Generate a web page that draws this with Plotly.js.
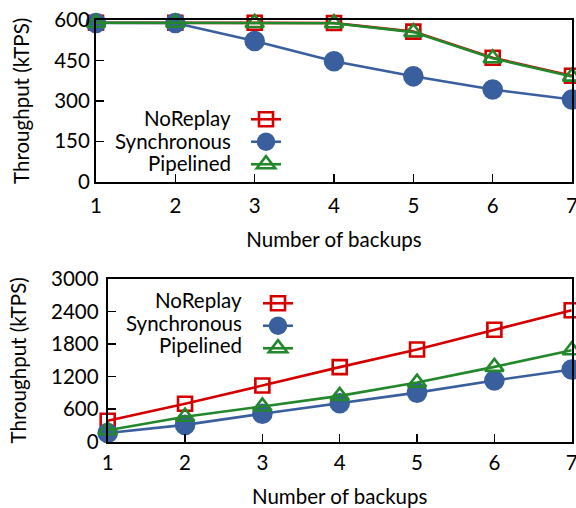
<!DOCTYPE html>
<html>
<head>
<meta charset="utf-8">
<script src="https://cdn.plot.ly/plotly-3.0.1.min.js"></script>
<style>html,body{margin:0;padding:0;background:#fff;}#chart{width:576px;height:508px;}</style>
</head>
<body>
<div id="chart"></div>
<script>
// ---- data ----
const backups = [1, 2, 3, 4, 5, 6, 7];
const seriesNames = ["NoReplay", "Synchronous", "Pipelined"];
// top panel
const noReplayTop = [590, 590, 590, 589, 557, 460, 393];
const syncTop     = [589, 589, 522, 447, 391, 342, 305];
const pipeTop     = [590, 590, 589, 588, 555, 458, 390];
// bottom panel
const noReplayBot = [385, 700, 1035, 1375, 1700, 2065, 2425];
const syncBot     = [160, 310, 515, 710, 905, 1130, 1330];
const pipeBot     = [210, 460, 650, 845, 1090, 1380, 1685];
const topTicks = [0, 150, 300, 450, 600];
const botTicks = [0, 600, 1200, 1800, 2400, 3000];

// ---- styles ----
const FONT = "Lato, 'Open Sans', sans-serif";
const FS = 20.5;
const colors = ["#d40000", "#3a5f9e", "#23882b"];
const symbols = ["square-open", "circle", "triangle-up-open"];
const sizes = [14, 18, 16];

function mk(y, i, xa, ya, leg) {
  return {
    x: backups, y: y, xaxis: xa, yaxis: ya, type: "scatter", mode: "lines+markers",
    name: " ", meta: seriesNames[i], legend: leg, cliponaxis: false, hoverinfo: "skip",
    line: {color: colors[i], width: 2.6},
    marker: {symbol: symbols[i], size: sizes[i], color: colors[i],
             line: {color: colors[i], width: 2.6}}
  };
}
const traces = [
  mk(noReplayTop, 0, "x", "y", "legend"),
  mk(syncTop, 1, "x", "y", "legend"),
  mk(pipeTop, 2, "x", "y", "legend"),
  mk(noReplayBot, 0, "x2", "y2", "legend2"),
  mk(syncBot, 1, "x2", "y2", "legend2"),
  mk(pipeBot, 2, "x2", "y2", "legend2")
];

const W = 576, H = 508;
const px = v => v / W, py = v => 1 - v / H;

function xax(dom, anchor, labOff, titleOff) {
  return {
    domain: dom, anchor: anchor, range: [1, 7], tickvals: backups,
    showline: true, mirror: true, linecolor: "#000", linewidth: 2,
    ticks: "inside", ticklen: 8, tickwidth: 1.5, tickcolor: "#000",
    showgrid: false, zeroline: false, ticklabeloverflow: "allow",
    ticklabelstandoff: labOff,
    tickfont: {family: FONT, size: FS, color: "#000"},
    title: {text: "Number of backups", font: {family: FONT, size: FS, color: "#000"}, standoff: titleOff}
  };
}
function yax(dom, anchor, rng, tv, labOff, titleOff) {
  return {
    domain: dom, anchor: anchor, range: rng, tickvals: tv,
    showline: true, mirror: true, linecolor: "#000", linewidth: 2,
    ticks: "inside", ticklen: 8, tickwidth: 1.5, tickcolor: "#000",
    showgrid: false, zeroline: false, ticklabelstandoff: labOff,
    tickfont: {family: FONT, size: FS, color: "#000"},
    title: {text: "Throughput (kTPS)", font: {family: FONT, size: FS, color: "#000"}, standoff: titleOff}
  };
}

const legendBase = {
  font: {family: FONT, size: 15, color: "#000"},
  bgcolor: "rgba(0,0,0,0)", borderwidth: 0, itemsizing: "trace",
  xanchor: "left", yanchor: "top", tracegroupgap: 0, itemwidth: 30
};

const annotations = [];
const topRows = [118, 141, 163], botRows = [300, 323, 345];
seriesNames.forEach((n, i) => {
  annotations.push({text: n, xref: "paper", yref: "paper", x: px(233), y: py(topRows[i]),
    xanchor: "right", yanchor: "middle", showarrow: false,
    font: {family: FONT, size: FS, color: "#000"}});
  annotations.push({text: n, xref: "paper", yref: "paper", x: px(244), y: py(botRows[i]),
    xanchor: "right", yanchor: "middle", showarrow: false,
    font: {family: FONT, size: FS, color: "#000"}});
});

const layout = {
  width: W, height: H, margin: {l: 0, r: 0, t: 0, b: 0},
  paper_bgcolor: "#fff", plot_bgcolor: "#fff", showlegend: true,
  xaxis: xax([px(96), px(572)], "y", 5, 16),
  yaxis: yax([py(181.7), py(20)], "x", [0, 600], topTicks, 0, 19),
  xaxis2: xax([px(107.7), px(571.7)], "y2", 2, 17),
  yaxis2: yax([py(441.7), py(279)], "x2", [0, 3000], botTicks, 3, 19),
  legend: Object.assign({}, legendBase, {x: px(246), y: py(103)}),
  legend2: Object.assign({}, legendBase, {x: px(258), y: py(287)}),
  annotations: annotations
};
Plotly.newPlot("chart", traces, layout, {staticPlot: true});
</script>
</body>
</html>
